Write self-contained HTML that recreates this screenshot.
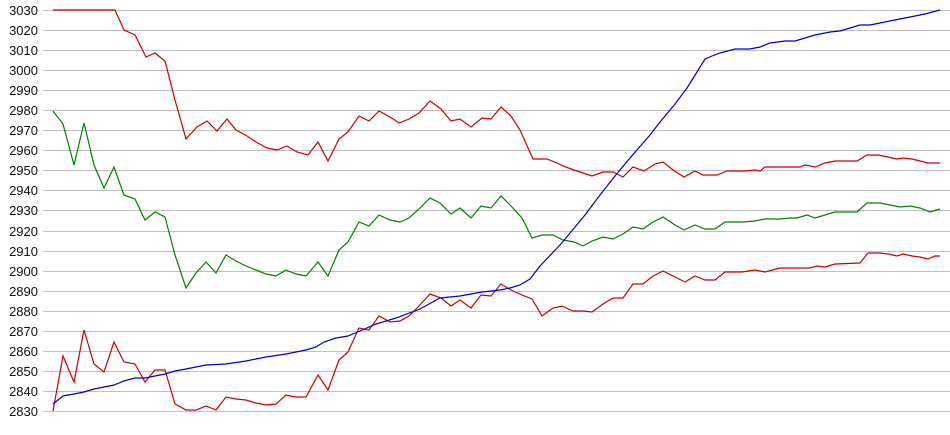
<!DOCTYPE html>
<html><head><meta charset="utf-8"><style>
html,body{margin:0;padding:0;background:#fff;width:950px;height:435px;overflow:hidden}
svg{display:block}
text{font-family:"Liberation Sans",Arial,sans-serif;font-size:13px;fill:#111}
</style></head><body>
<svg width="950" height="435" viewBox="0 0 950 435">
<g stroke="#c0c0c0" stroke-width="1">
<line x1="43" x2="950" y1="10.5" y2="10.5"/><line x1="43" x2="950" y1="30.5" y2="30.5"/><line x1="43" x2="950" y1="50.5" y2="50.5"/><line x1="43" x2="950" y1="70.5" y2="70.5"/><line x1="43" x2="950" y1="90.5" y2="90.5"/><line x1="43" x2="950" y1="110.5" y2="110.5"/><line x1="43" x2="950" y1="130.5" y2="130.5"/><line x1="43" x2="950" y1="150.5" y2="150.5"/><line x1="43" x2="950" y1="170.5" y2="170.5"/><line x1="43" x2="950" y1="190.5" y2="190.5"/><line x1="43" x2="950" y1="210.5" y2="210.5"/><line x1="43" x2="950" y1="231.5" y2="231.5"/><line x1="43" x2="950" y1="251.5" y2="251.5"/><line x1="43" x2="950" y1="271.5" y2="271.5"/><line x1="43" x2="950" y1="291.5" y2="291.5"/><line x1="43" x2="950" y1="311.5" y2="311.5"/><line x1="43" x2="950" y1="331.5" y2="331.5"/><line x1="43" x2="950" y1="351.5" y2="351.5"/><line x1="43" x2="950" y1="371.5" y2="371.5"/><line x1="43" x2="950" y1="391.5" y2="391.5"/><line x1="43" x2="950" y1="411.5" y2="411.5"/>
</g>
<g text-anchor="end">
<text x="38" y="15">3030</text><text x="38" y="35">3020</text><text x="38" y="55">3010</text><text x="38" y="75">3000</text><text x="38" y="95">2990</text><text x="38" y="115">2980</text><text x="38" y="135">2970</text><text x="38" y="155">2960</text><text x="38" y="175">2950</text><text x="38" y="195">2940</text><text x="38" y="215">2930</text><text x="38" y="236">2920</text><text x="38" y="256">2910</text><text x="38" y="276">2900</text><text x="38" y="296">2890</text><text x="38" y="316">2880</text><text x="38" y="336">2870</text><text x="38" y="356">2860</text><text x="38" y="376">2850</text><text x="38" y="396">2840</text><text x="38" y="416">2830</text>
</g>
<g fill="none" stroke-width="1.2">
<polyline stroke="#cc0000" points="53,10 115,10 124,30 135,35 146,57 155,53 165,61 175,100 186,139 197,127 207,121 217,131 227,119 236,130 247,136 256,142 267,148 277,150 287,146 297,152 308,155 318,142 328,161 339,139 348,132 359,116 369,121 379,111 390,117 399,123 409,119 419,113 430,101 441,109 451,121 460,119 471,127 482,118 491,119 501,107 511,116 520,130 533,159 547,159 557,163 563,166 574,170 583,173 592,176 603,172 613,172 623,177 633,167 644,171 655,164 663,162 673,170 684,177 695,171 703,175 717,175 727,171 745,171 755,170 760,171 765,167 800,167 805,165 815,167 825,163 835,161 857,161 867,155 878,155 888,157 897,159 903,158 912,159 920,161 928,163 940,163"/>
<polyline stroke="#008000" points="53,111 63,124 74,165 84,123 94,165 104,188 114,167 124,195 135,199 145,220 155,212 165,217 175,255 186,288 196,273 206,262 216,273 226,255 236,261 246,266 266,274 276,276 286,270 296,274 306,276 318,262 328,276 339,250 348,242 359,222 369,226 379,215 390,220 400,222 409,218 420,208 430,198 440,203 451,214 460,208 471,218 481,206 491,208 501,196 511,206 522,218 532,238 542,235 553,235 563,240 574,242 583,246 592,241 603,237 613,239 623,234 633,227 643,229 653,222 663,217 675,225 684,230 695,225 705,229 715,229 725,222 742,222 755,221 765,219 780,219 790,218 797,218 807,215 815,218 825,215 835,212 857,212 867,203 880,203 890,205 900,207 910,206 920,208 930,212 940,209"/>
<polyline stroke="#cc0000" points="53,411 63,356 74,382 84,330 94,364 104,372 114,342 124,362 135,364 145,382 155,370 165,370 175,404 186,410 196,410 206,406 216,410 226,397 236,399 246,400 256,403 266,405 276,404 286,395 296,397 306,397 318,375 328,390 339,360 348,352 359,328 369,330 379,316 390,322 400,321 409,316 419,306 430,294 441,298 451,306 460,300 471,308 481,295 491,296 501,284 511,290 522,295 532,299 542,316 553,308 562,306 573,311 583,311 592,312 603,304 613,298 623,298 633,284 643,284 653,276 663,271 675,277 685,282 695,276 705,280 715,280 725,272 742,272 755,270 765,272 780,268 810,268 817,266 825,267 835,264 860,263 868,253 880,253 888,254 897,256 903,254 912,256 920,257 928,259 935,256 940,256"/>
<polyline stroke="#0000cc" points="53,404 58,400 63,396 74,394 84,392 94,389 104,387 114,385 124,381 135,378 145,378 155,376 165,374 175,371 186,369 196,367 206,365 226,364 246,361 266,357 286,354 306,350 316,347 324,342 336,338 348,336 360,331 376,324 396,318 420,309 440,298 460,296 482,292 500,290 510,288 520,285 530,279 540,266 560,245 585,215 600,195 615,176 630,158 650,135 660,122 675,104 687,88 697,72 705,59 712,56 720,53 735,49 750,49 760,47 770,43 785,41 795,41 805,38 815,35 830,32 840,31 850,28 860,25 870,25 885,22 895,20 910,17 925,14 940,10"/>
</g>
</svg>
</body></html>
